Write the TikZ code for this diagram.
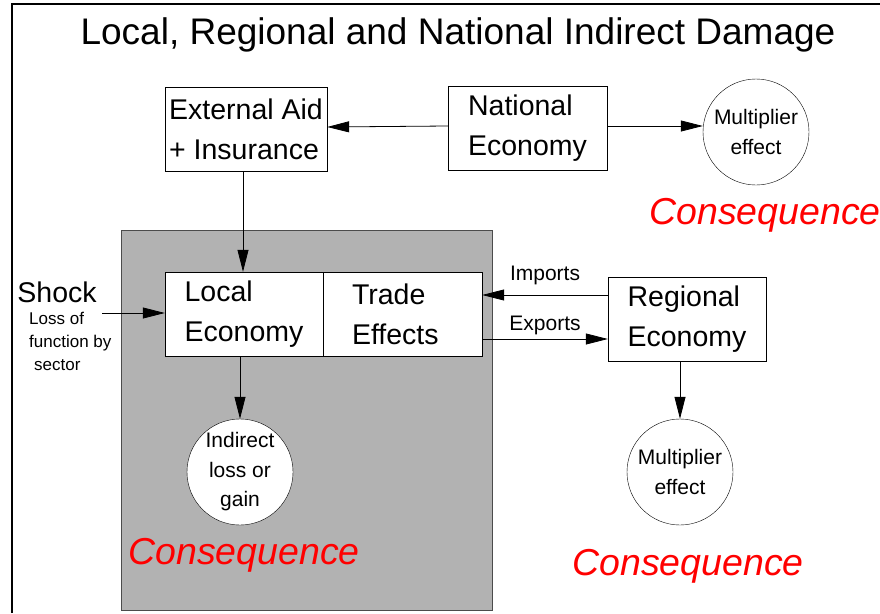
\documentclass[tikz,border=0pt]{standalone}
\usepackage{fontspec}
\setmainfont{Liberation Sans}
\usepackage{xcolor}
\usetikzlibrary{arrows.meta,positioning}

\begin{document}
\begin{tikzpicture}[
    x=1pt, y=-1pt,
    box/.style={rectangle, draw, fill=white, minimum width=159pt, minimum height=84pt, inner sep=0pt, align=left, font=\fontsize{28.5}{40}\selectfont},
    bubble/.style={circle, draw, fill=white, minimum size=106pt, inner sep=0pt, align=center, font=\fontsize{21}{29.5}\selectfont},
    conseq/.style={font=\fontsize{37.5}{42}\selectfont\itshape, text=red},
    arrow/.style={-{Triangle[length=22pt, width=11pt]}, line width=0.8pt},
    tag/.style={font=\fontsize{21}{26}\selectfont, inner sep=3pt}
]
\useasboundingbox (0,0) rectangle (880,613);

% Frame and title
\draw[line width=2pt] (12,613) -- (12,4) -- (880,4);
\node[font=\fontsize{37}{42}\selectfont] (title) at (458,35) {Local, Regional and National Indirect Damage};

% Local area (shaded)
\draw[draw=black!70, fill=black!30] (121,230) rectangle (492,610);

% National level
\node[box, minimum width=162pt] (aid) at (246,129) {External Aid\\+ Insurance};
\node[box] (national) at (527.5,128) {National\\Economy};
\node[bubble] (multnat) at (756,132) {Multiplier\\effect};
\node[conseq] (consnat) at (765,215) {Consequence};

% Local level
\node[box, minimum width=158pt] (local) at (244,314) {Local\\Economy};
\node[box, text width=101pt] (trade) at (402.5,314) {Trade\\Effects};
\node[bubble] (indirect) at (240,472) {Indirect\\loss or\\gain};
\node[conseq] (conslocal) at (244,555) {Consequence};

% Shock input
\node[font=\fontsize{28.5}{32}\selectfont, inner sep=0pt] (shock) at (57,292) {Shock};
\node[font=\fontsize{17}{23}\selectfont, align=left, inner sep=0pt, anchor=west] (shockdesc) at (29,341) {Loss of\\function by\\\hspace*{5pt}sector};
\coordinate (shockin) at (102,313);

% Regional level
\node[box, minimum width=158pt] (regional) at (687,319) {Regional\\Economy};
\node[bubble] (multreg) at (680,472) {Multiplier\\effect};
\node[conseq] (consreg) at (688,566) {Consequence};

% National arrows
\draw[arrow] ([yshift=2pt]national.west) -- ([yshift=2pt]aid.east);
\draw[arrow] ([yshift=2pt]national.east) -- ([yshift=2pt]national.east -| multnat.west);
\draw[arrow] ([xshift=-3pt]aid.south) -- ([xshift=-3pt]aid.south |- local.north);

% Local arrows
\draw[arrow] (shockin) -- (shockin -| local.west);
\draw[arrow] (indirect.north |- local.south) -- (indirect.north);

% Trade arrows
\draw[arrow] ([yshift=24pt]regional.west) -- ([yshift=24pt]regional.west -| trade.east) node[tag, midway, above=7pt] {Imports};
\draw[arrow] ([yshift=-25pt]trade.east) -- ([yshift=-25pt]trade.east -| regional.west) node[tag, midway, above=1pt] {Exports};
\draw[arrow] (multreg.north |- regional.south) -- (multreg.north);
\end{tikzpicture}
\end{document}
